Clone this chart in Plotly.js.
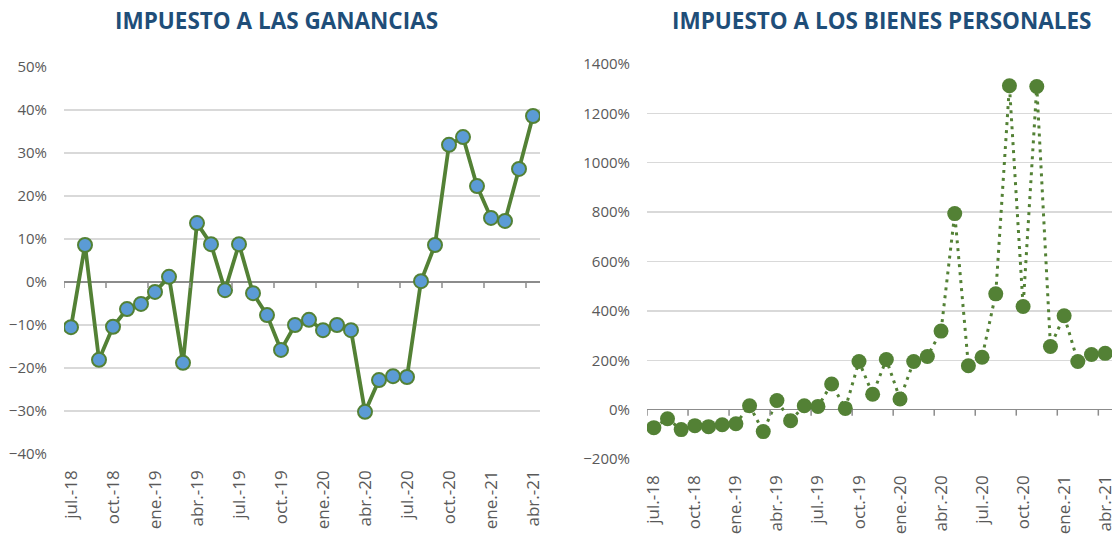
<!DOCTYPE html>
<html>
<head>
<meta charset="utf-8">
<script src="https://cdn.plot.ly/plotly-3.0.1.min.js"></script>
<style>html,body{margin:0;padding:0;background:#fff;}#chart{width:1115px;height:538px;}</style>
</head>
<body>
<div id="chart"></div>
<script>
var months = ["jul.-18","ago.-18","sep.-18","oct.-18","nov.-18","dic.-18","ene.-19","feb.-19","mar.-19","abr.-19","may.-19","jun.-19",
"jul.-19","ago.-19","sep.-19","oct.-19","nov.-19","dic.-19","ene.-20","feb.-20","mar.-20","abr.-20","may.-20","jun.-20",
"jul.-20","ago.-20","sep.-20","oct.-20","nov.-20","dic.-20","ene.-21","feb.-21","mar.-21","abr.-21"];

var ganancias = [-10.5, 8.6, -18.1, -10.4, -6.3, -5.1, -2.3, 1.2, -18.8, 13.7, 8.8, -1.9,
 8.8, -2.6, -7.7, -15.8, -10.0, -8.8, -11.2, -10.0, -11.2, -30.2, -22.8, -21.9,
 -22.1, 0.2, 8.6, 31.9, 33.7, 22.3, 14.9, 14.2, 26.3, 38.6];

var bienesPersonales = [-73, -37, -81, -65, -69, -61, -57, 16, -89, 37, -45, 16,
 13, 104, 5, 195, 62, 203, 43, 195, 215, 318, 794, 178,
 212, 469, 1312, 418, 1309, 256, 380, 195, 223, 228];

var titles = ["IMPUESTO A LAS GANANCIAS", "IMPUESTO A LOS BIENES PERSONALES"];

var W = 1115, H = 538;
var green = "#538135", blue = "#5B9BD5", gray = "#595959", grid = "#D9D9D9", axisGray = "#8C8C8C";
var font = "Open Sans, Lato, sans-serif";

var traces = [
  {x: months, y: ganancias.map(function(v){return v/100;}), xaxis: "x", yaxis: "y", type: "scatter", mode: "lines+markers",
   line: {color: green, width: 3.8}, marker: {size: 14, color: blue, line: {color: green, width: 2}}, hoverinfo: "x+y"},
  {x: months, y: bienesPersonales.map(function(v){return v/100;}), xaxis: "x2", yaxis: "y2", type: "scatter", mode: "lines+markers",
   line: {color: green, width: 3, dash: "3px,5px"}, marker: {size: 15, color: green}, hoverinfo: "x+y"}
];

function px2fx(p){return p/W;}
function px2fy(p){return 1 - p/H;}

function xax(domain, anchor){
  return {domain: domain, anchor: anchor, type: "category", range: [-0.5, months.length - 0.5], tickmode: "linear", tick0: 0, dtick: 3,
    tickangle: -90, ticks: "", showgrid: false, zeroline: false, showline: false, ticklabelstandoff: 12,
    tickfont: {family: font, size: 17, color: gray}, fixedrange: true};
}
function yax(domain, anchor, range, dtick){
  return {domain: domain, anchor: anchor, range: range, dtick: dtick, tickformat: ".0%", showgrid: true, gridcolor: grid, gridwidth: 1.3,
    zeroline: true, zerolinecolor: axisGray, zerolinewidth: 1.5, showline: false, ticks: "", ticklabelstandoff: 16,
    tickfont: {family: font, size: 15, color: gray}, fixedrange: true};
}

var shapes = [];
["x", "x2"].forEach(function(xr, k){
  var yr = k === 0 ? "y" : "y2";
  for (var i = 0; i < months.length; i += 3) {
    shapes.push({type: "line", xref: xr, yref: yr, ysizemode: "pixel", yanchor: 0, x0: i - 0.5, x1: i - 0.5, y0: 0, y1: -6,
      line: {color: axisGray, width: 1.5}});
  }
});

var layout = {
  width: W, height: H, margin: {l: 0, r: 0, t: 0, b: 0}, paper_bgcolor: "#fff", plot_bgcolor: "#fff", showlegend: false,
  xaxis: xax([px2fx(64), px2fx(540)], "y"),
  yaxis: yax([px2fy(454), px2fy(67)], "x", [-0.4, 0.5], 0.1),
  xaxis2: xax([px2fx(647), px2fx(1112)], "y2"),
  yaxis2: yax([px2fy(459), px2fy(64)], "x2", [-2, 14], 2),
  shapes: shapes,
  annotations: [
    {text: "<b>" + titles[0] + "</b>", xref: "paper", yref: "paper", x: px2fx(276), y: px2fy(20.5), xanchor: "center", yanchor: "middle",
     showarrow: false, font: {family: font, size: 22.5, color: "#1F4E79"}},
    {text: "<b>" + titles[1] + "</b>", xref: "paper", yref: "paper", x: px2fx(882), y: px2fy(20.5), xanchor: "center", yanchor: "middle",
     showarrow: false, font: {family: font, size: 22.5, color: "#1F4E79"}}
  ]
};

Plotly.newPlot("chart", traces, layout, {displayModeBar: false, staticPlot: true});
</script>
</body>
</html>
